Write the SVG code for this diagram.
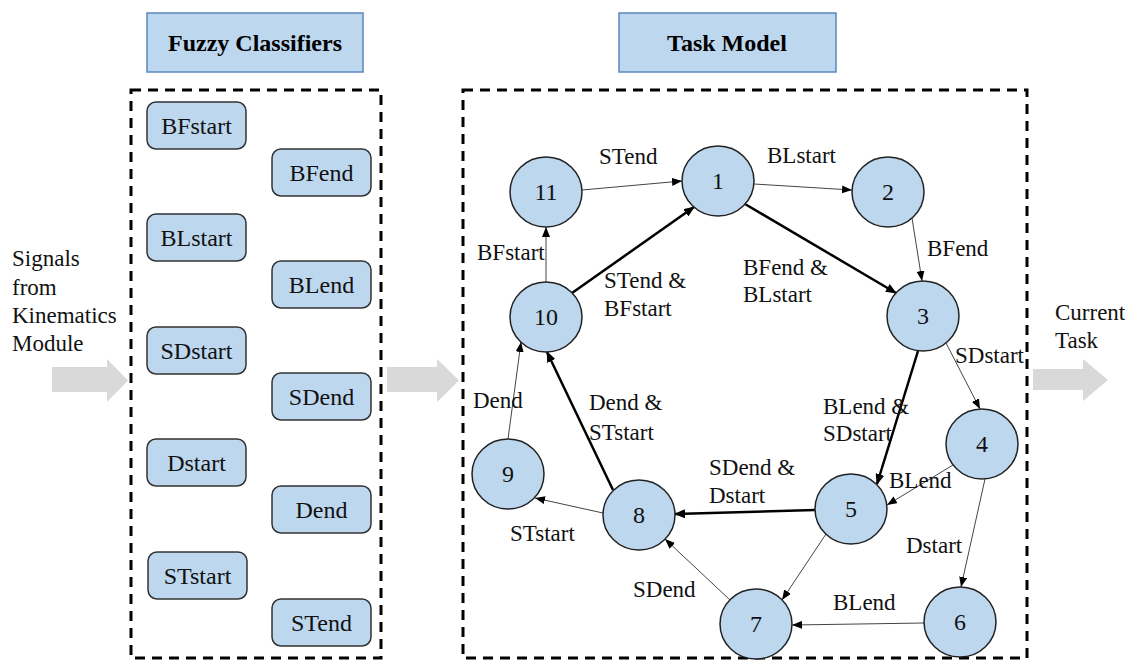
<svg xmlns="http://www.w3.org/2000/svg" width="1133" height="661" viewBox="0 0 1133 661">
<style>
text{font-family:"Times New Roman","Liberation Serif","DejaVu Serif","Noto Serif",serif}
.hdr{fill:#bdd7ee;stroke:#5b87c0;stroke-width:1.5}
.hdrt{font-weight:bold;font-size:24px;text-anchor:middle;fill:#000}
.box{fill:#bdd7ee;stroke:#333;stroke-width:1.5}
.bt{font-size:24px;text-anchor:middle;fill:#111}
.dash{fill:none;stroke:#000;stroke-width:3;stroke-dasharray:10 7}
.node{fill:#bdd7ee;stroke:#222;stroke-width:1.5}
.nt{font-size:24px;text-anchor:middle;fill:#111}
.lbl{font-size:23px;fill:#111}
.thin{stroke:#444;stroke-width:1;fill:none;marker-end:url(#ah)}
.thick{stroke:#000;stroke-width:2.5;fill:none;marker-end:url(#ahb)}
.garrow{fill:#d9d9d9}
</style>
<defs>
<marker id="ah" markerUnits="userSpaceOnUse" markerWidth="10" markerHeight="8" refX="10" refY="4" orient="auto"><path d="M0,0 L10,4 L0,8 Z" fill="#000"/></marker>
<marker id="ahb" markerUnits="userSpaceOnUse" markerWidth="11" markerHeight="9" refX="10" refY="4.5" orient="auto"><path d="M0,0 L11,4.5 L0,9 Z" fill="#000"/></marker>
</defs>
<rect width="1133" height="661" fill="#fff"/>

<g id="header-fuzzy"><rect class="hdr" x="147" y="13" width="216" height="59"/><text class="hdrt" x="255" y="51">Fuzzy Classifiers</text></g>
<g id="header-task"><rect class="hdr" x="619" y="13" width="217" height="59"/><text class="hdrt" x="727" y="51">Task Model</text></g>

<g id="panel-left"><rect class="dash" x="131" y="90" width="250" height="568"/></g>
<g id="panel-right"><rect class="dash" x="463" y="90" width="564" height="568"/></g>

<g id="signals"><text class="lbl" x="12" y="266">Signals</text><text class="lbl" x="12" y="295">from</text><text class="lbl" x="12" y="323">Kinematics</text><text class="lbl" x="12" y="351">Module</text></g>
<g id="current-task"><text class="lbl" x="1055" y="320">Current</text><text class="lbl" x="1055" y="348">Task</text></g>

<g id="gray-arrows">
<path class="garrow" d="M52,367 H107 V359 L128,380.5 L107,402 V392 H52 Z"/>
<path class="garrow" d="M387,367 H437 V359 L459,380.5 L437,402 V392 H387 Z"/>
<path class="garrow" d="M1033,369 H1083 V359 L1108,380 L1083,401 V390 H1033 Z"/>
</g>

<g id="c-BFstart"><rect class="box" x="147" y="102" width="99" height="47" rx="9"/><text class="bt" x="196.5" y="134">BFstart</text></g>
<g id="c-BFend"><rect class="box" x="272" y="149" width="99" height="47" rx="9"/><text class="bt" x="321.5" y="181">BFend</text></g>
<g id="c-BLstart"><rect class="box" x="147" y="214" width="99" height="47" rx="9"/><text class="bt" x="196.5" y="246">BLstart</text></g>
<g id="c-BLend"><rect class="box" x="272" y="261" width="99" height="47" rx="9"/><text class="bt" x="321.5" y="293">BLend</text></g>
<g id="c-SDstart"><rect class="box" x="147" y="327" width="99" height="47" rx="9"/><text class="bt" x="196.5" y="359">SDstart</text></g>
<g id="c-SDend"><rect class="box" x="272" y="373" width="99" height="47" rx="9"/><text class="bt" x="321.5" y="405">SDend</text></g>
<g id="c-Dstart"><rect class="box" x="147" y="439" width="99" height="47" rx="9"/><text class="bt" x="196.5" y="471">Dstart</text></g>
<g id="c-Dend"><rect class="box" x="272" y="486" width="99" height="47" rx="9"/><text class="bt" x="321.5" y="518">Dend</text></g>
<g id="c-STstart"><rect class="box" x="148" y="552" width="99" height="47" rx="9"/><text class="bt" x="197.5" y="584">STstart</text></g>
<g id="c-STend"><rect class="box" x="272" y="599" width="99" height="47" rx="9"/><text class="bt" x="321.5" y="631">STend</text></g>

<g id="connectors">
<line class="thin" x1="582" y1="190" x2="682" y2="181"/>
<line class="thin" x1="754" y1="184" x2="852" y2="190"/>
<line class="thin" x1="912" y1="218" x2="922" y2="281"/>
<line class="thick" x1="745" y1="204" x2="896" y2="293"/>
<line class="thick" x1="572" y1="293" x2="694" y2="207"/>
<line class="thin" x1="546" y1="282" x2="546" y2="227"/>
<line class="thin" x1="946" y1="343" x2="980" y2="409"/>
<line class="thick" x1="918" y1="351" x2="877" y2="484"/>
<line class="thin" x1="953" y1="465" x2="887" y2="505"/>
<line class="thin" x1="985" y1="479" x2="961" y2="587"/>
<line class="thin" x1="826" y1="534" x2="782" y2="600"/>
<line class="thin" x1="924" y1="623" x2="792" y2="625"/>
<line class="thick" x1="815" y1="510" x2="675" y2="514"/>
<line class="thin" x1="730" y1="600" x2="665" y2="539"/>
<line class="thin" x1="603" y1="513" x2="535" y2="498"/>
<line class="thin" x1="508" y1="439" x2="521" y2="342"/>
<line class="thick" x1="613" y1="490" x2="547" y2="352"/>
</g>

<g id="edge-labels">
<text class="lbl" x="599" y="164">STend</text>
<text class="lbl" x="767" y="163">BLstart</text>
<text class="lbl" x="927" y="256">BFend</text>
<text class="lbl" x="743" y="275">BFend &amp;</text><text class="lbl" x="743" y="302">BLstart</text>
<text class="lbl" x="604" y="288">STend &amp;</text><text class="lbl" x="604" y="316">BFstart</text>
<text class="lbl" x="477" y="260">BFstart</text>
<text class="lbl" x="955" y="363">SDstart</text>
<text class="lbl" x="823" y="414">BLend &amp;</text><text class="lbl" x="823" y="441">SDstart</text>
<text class="lbl" x="889" y="488">BLend</text>
<text class="lbl" x="906" y="553">Dstart</text>
<text class="lbl" x="833" y="610">BLend</text>
<text class="lbl" x="709" y="475">SDend &amp;</text><text class="lbl" x="709" y="503">Dstart</text>
<text class="lbl" x="633" y="597">SDend</text>
<text class="lbl" x="510" y="541">STstart</text>
<text class="lbl" x="473" y="408">Dend</text>
<text class="lbl" x="589" y="410">Dend &amp;</text><text class="lbl" x="589" y="440">STstart</text>
</g>

<g id="n1"><ellipse class="node" cx="718" cy="181" rx="36" ry="35"/><text class="nt" x="718" y="189">1</text></g>
<g id="n2"><ellipse class="node" cx="888" cy="192" rx="36" ry="35"/><text class="nt" x="888" y="200">2</text></g>
<g id="n3"><ellipse class="node" cx="923" cy="316" rx="36" ry="35"/><text class="nt" x="923" y="324">3</text></g>
<g id="n4"><ellipse class="node" cx="982" cy="444" rx="36" ry="35"/><text class="nt" x="982" y="452">4</text></g>
<g id="n5"><ellipse class="node" cx="851" cy="509" rx="36" ry="35"/><text class="nt" x="851" y="517">5</text></g>
<g id="n6"><ellipse class="node" cx="960" cy="622" rx="36" ry="35"/><text class="nt" x="960" y="630">6</text></g>
<g id="n7"><ellipse class="node" cx="756" cy="624" rx="36" ry="35"/><text class="nt" x="756" y="632">7</text></g>
<g id="n8"><ellipse class="node" cx="639" cy="515" rx="36" ry="35"/><text class="nt" x="639" y="523">8</text></g>
<g id="n9"><ellipse class="node" cx="508" cy="474" rx="36" ry="35"/><text class="nt" x="508" y="482">9</text></g>
<g id="n10"><ellipse class="node" cx="546" cy="317" rx="36" ry="35"/><text class="nt" x="546" y="325">10</text></g>
<g id="n11"><ellipse class="node" cx="546" cy="192" rx="36" ry="35"/><text class="nt" x="546" y="200">11</text></g>
</svg>
